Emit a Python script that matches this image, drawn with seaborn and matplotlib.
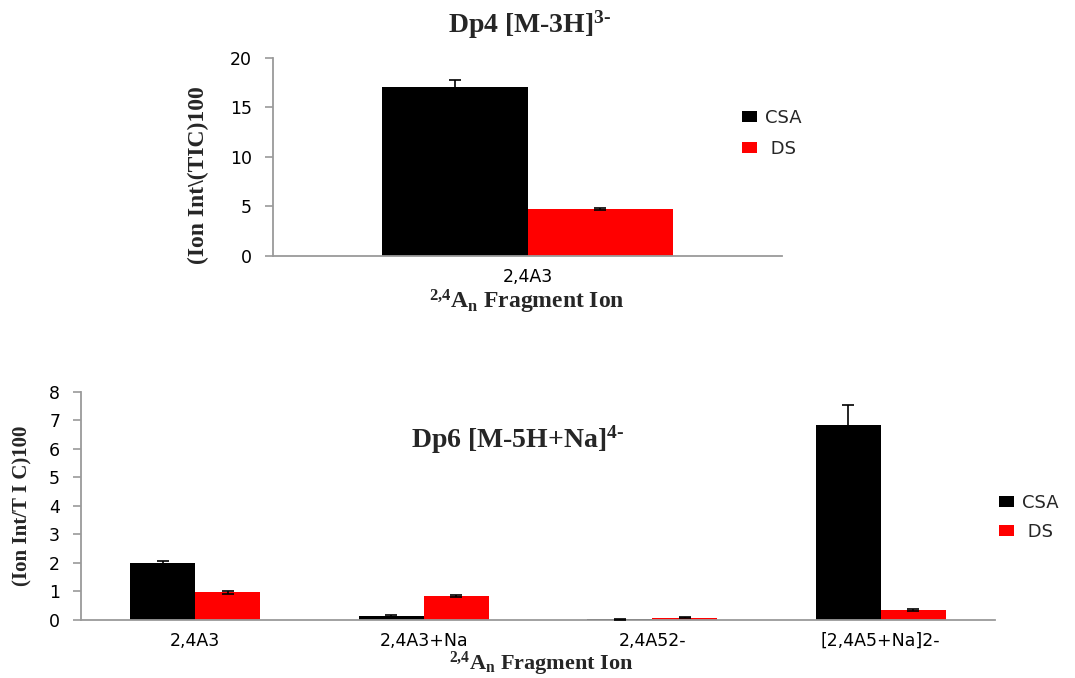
import matplotlib
matplotlib.use("Agg")
import matplotlib.pyplot as plt
import seaborn as sns
import pandas as pd
import numpy as np

# ---- data ----
series = ["CSA", "DS"]
colors = ["#000000", "#ff0000"]

top_categories = ["2,4A3"]
top_csa = [17.05]
top_csa_err = [0.65]
top_ds = [4.72]
top_ds_err = [0.12]

bot_categories = ["2,4A3", "2,4A3+Na", "2,4A52-", "[2,4A5+Na]2-"]
bot_csa = [2.00, 0.12, 0.01, 6.83]
bot_csa_err = [0.07, 0.03, 0.02, 0.72]
bot_ds = [0.96, 0.83, 0.07, 0.33]
bot_ds_err = [0.06, 0.05, 0.02, 0.04]

sns.set_theme(style="white")
plt.rcParams["font.family"] = ["DejaVu Sans"]
plt.rcParams["mathtext.fontset"] = "custom"
plt.rcParams["mathtext.rm"] = "Liberation Serif:bold"
plt.rcParams["mathtext.it"] = "Liberation Serif:bold"
plt.rcParams["mathtext.bf"] = "Liberation Serif:bold"

W, H = 1075, 678
fig = plt.figure(figsize=(W / 100, H / 100), dpi=100)

def make_df(cats, csa, ds):
    return pd.DataFrame({
        "cat": list(cats) * 2,
        "series": ["CSA"] * len(cats) + ["DS"] * len(cats),
        "value": list(csa) + list(ds),
    })

def draw(ax, cats, csa, csa_err, ds, ds_err, ymax, step):
    df = make_df(cats, csa, ds)
    sns.barplot(data=df, x="cat", y="value", hue="series", hue_order=series,
                palette=colors, order=cats, width=0.57, gap=0, errorbar=None,
                saturation=1, ax=ax, legend=True, linewidth=0)
    errs = [csa_err, ds_err]
    for cont, err in zip(ax.containers, errs):
        xs = [p.get_x() + p.get_width() / 2 for p in cont.patches]
        hs = [p.get_height() for p in cont.patches]
        ax.errorbar(xs, hs, yerr=err, fmt="none", ecolor="black",
                    elinewidth=1.2, capsize=4, capthick=1.2, zorder=5)
    ax.set_ylim(0, ymax)
    ax.set_yticks(np.arange(0, ymax + 0.01, step))
    ax.set_xlim(-0.5, len(cats) - 0.5)
    for s in ["top", "right"]:
        ax.spines[s].set_visible(False)
    for s in ["left", "bottom"]:
        ax.spines[s].set_color("#9a9a9a")
        ax.spines[s].set_linewidth(1.3)
    ax.tick_params(axis="y", which="both", left=True, length=6, width=1.2,
                   color="#9a9a9a", labelsize=12.5, pad=9, labelcolor="black")
    ax.tick_params(axis="x", bottom=False, length=0, labelsize=12.5, pad=9,
                   labelcolor="black")
    ax.set_xlabel("")
    ax.set_ylabel("")

leg_kw = dict(frameon=False, fontsize=13,
              handlelength=0.85, handleheight=0.6, handletextpad=0.45,
              borderpad=0, borderaxespad=0, loc="upper left")

# top axes
ax1 = fig.add_axes([273 / W, 1 - 255.7 / H, 509 / W, 198 / H])
draw(ax1, top_categories, top_csa, top_csa_err, top_ds, top_ds_err, 20, 5)
h, l = ax1.get_legend_handles_labels()
ax1.legend(h, ["CSA", " DS"], bbox_to_anchor=(742 / W, 1 - 109 / H),
           bbox_transform=fig.transFigure, labelspacing=0.72, **leg_kw)

# bottom axes
ax2 = fig.add_axes([81 / W, 1 - 619.7 / H, 914 / W, 228 / H])
draw(ax2, bot_categories, bot_csa, bot_csa_err, bot_ds, bot_ds_err, 8, 1)
h, l = ax2.get_legend_handles_labels()
ax2.legend(h, ["CSA", " DS"], bbox_to_anchor=(999 / W, 1 - 494 / H),
           bbox_transform=fig.transFigure, labelspacing=0.6, **leg_kw)

serif = ["Liberation Serif", "DejaVu Serif"]
# titles
fig.text(530 / W, 1 - 25 / H, r"Dp4 [M-3H]$^{\text{3-}}$",
         ha="center", va="center", fontsize=20, fontweight="bold", family=serif)
fig.text(518 / W, 1 - 440 / H, r"Dp6 [M-5H+Na]$^{\text{4-}}$",
         ha="center", va="center", fontsize=20, fontweight="bold", family=serif)
# x labels
xl = r"$^{\text{2,4}}\mathrm{A}_{\mathrm{n}}$ Fragment Ion"
fig.text(527 / W, 1 - 302 / H, xl, ha="center", va="center", fontsize=17,
         fontweight="bold", family=serif)
fig.text(541 / W, 1 - 664 / H, xl, ha="center", va="center", fontsize=16,
         fontweight="bold", family=serif)
# y labels
fig.text(198 / W, 1 - 175 / H, "(Ion Int\\(TIC)100", ha="center", va="center",
         rotation=90, fontsize=17, fontweight="bold", family=serif)
fig.text(22 / W, 1 - 506 / H, "(Ion Int/T I C)100", ha="center", va="center",
         rotation=90, fontsize=15, fontweight="bold", family=serif)

fig.savefig("out.png", dpi=100)
